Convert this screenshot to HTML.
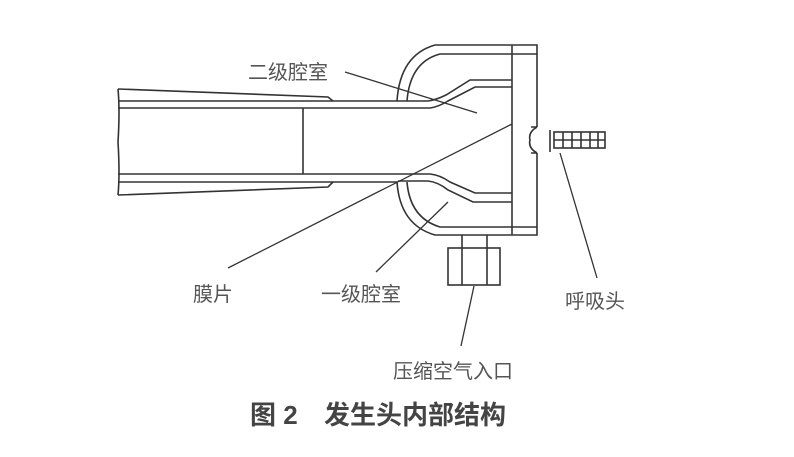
<!DOCTYPE html>
<html><head><meta charset="utf-8"><style>
html,body{margin:0;padding:0;background:#fff;}
svg{display:block;}
text{font-family:"Liberation Sans","Noto Sans CJK SC",sans-serif;fill:#555;}
</style></head><body>
<svg width="794" height="457" viewBox="0 0 794 457" xmlns="http://www.w3.org/2000/svg">
<g fill="none" stroke="#333" stroke-width="1.6">
<path d="M118,89 Q120,110 118,142 Q120,175 118,195"/>
<path d="M118,89 L328,97 L333,101"/>
<path d="M118,195 L328,187 L333,182"/>
<line x1="118" y1="101" x2="398" y2="101"/>
<line x1="118" y1="108" x2="398" y2="108"/>
<line x1="118" y1="174" x2="398" y2="174"/>
<line x1="118" y1="182" x2="398" y2="182"/>
<line x1="303" y1="108" x2="303" y2="174"/>
<path d="M398,101 L428,101 Q436,100 446,95 L470,80 L512,80"/>
<path d="M398,108 L430,108 Q438,107 448,101 L475,87 L512,87"/>
<path d="M398,174 L430,174 Q440,175 450,182 L475,193 L512,193"/>
<path d="M398,181 L428,181 Q438,182 448,190 L473,202 L512,202"/>
<path d="M397,101 Q400,55 435,45 L537,45 L537,127"/>
<path d="M407,101 Q410,62 440,54 L537,54"/>
<path d="M397,182 Q400,225 435,235 L537,235 L537,153"/>
<path d="M407,182 Q410,218 440,227 L537,227"/>
<line x1="512" y1="45" x2="512" y2="235"/>
<path d="M537,127 Q528,132 530,140 Q528,148 537,153"/>
<path d="M531,127 L537,127 M531,153 L537,153"/>
<line x1="550" y1="130" x2="550" y2="152"/>
<rect x="554" y="132" width="51" height="16"/>
<path d="M563,132v16M572,132v16M581,132v16M590,132v16M598,132v16M554,140h51"/>
<line x1="462" y1="235" x2="462" y2="285"/>
<line x1="487" y1="235" x2="487" y2="285"/>
<rect x="448" y="248" width="52" height="37"/>
</g>
<g stroke="#333" stroke-width="1.3">
<line x1="345" y1="72" x2="477" y2="113"/>
<line x1="228" y1="268" x2="512" y2="124"/>
<line x1="448" y1="202" x2="376" y2="272"/>
<line x1="560" y1="153" x2="597" y2="278"/>
<line x1="474" y1="286" x2="461" y2="346"/>
</g>
<g font-size="20">
<text x="248" y="79">二级腔室</text>
<text x="193" y="301">膜片</text>
<text x="321" y="301">一级腔室</text>
<text x="565" y="308">呼吸头</text>
<text x="393" y="378">压缩空气入口</text>
</g>
<text x="250" y="424" font-size="26" font-weight="bold" style="fill:#444">图 2</text>
<text x="324" y="424" font-size="26" font-weight="bold" style="fill:#444">发生头内部结构</text>
</svg>
</body></html>
